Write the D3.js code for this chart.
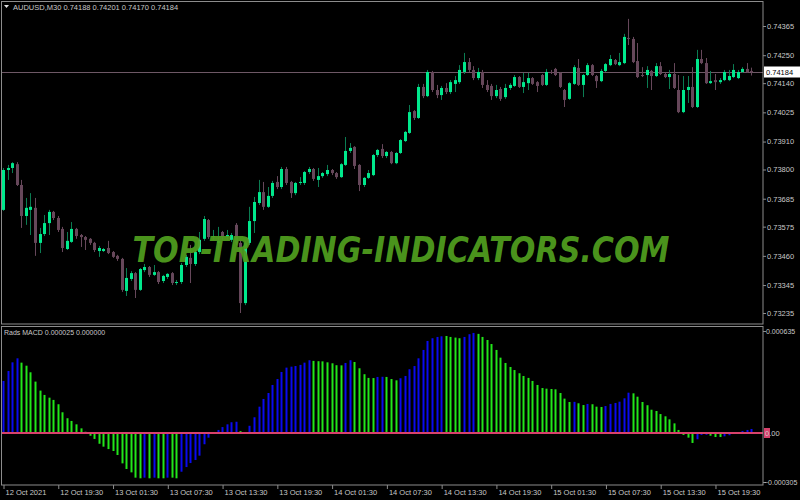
<!DOCTYPE html>
<html>
<head>
<meta charset="utf-8">
<script src="https://cdn.jsdelivr.net/npm/d3@7"></script>
<style>
body { margin: 0; background: #000; }
svg { display: block; }
text { font-family: "Liberation Sans", Arial, sans-serif; }
</style>
</head>
<body>
<svg class="chart" width="800" height="500"></svg>
<script>
// AUDUSD M30 candles, 12 Oct 13:30 -> 15 Oct 23:30
var opens = [0.73641,0.73798,0.73806,0.73821,0.73739,0.73617,0.73641,0.73649,0.73511,0.73546,0.73589,0.73633,0.73609,0.73566,0.73487,0.73515,0.73566,0.73542,0.73534,0.73527,
0.73511,0.73479,0.73479,0.73491,0.73475,0.73460,0.73448,0.73322,0.73369,0.73392,0.73326,0.73404,0.73416,0.73385,0.73396,0.73361,0.73377,0.73392,0.73353,0.73357,
0.73424,0.73452,0.73428,0.73475,0.73527,0.73601,0.73534,0.73511,0.73554,0.73534,0.73523,0.73582,0.73511,0.73274,0.73511,0.73597,0.73668,0.73711,0.73653,0.73696,
0.73751,0.73731,0.73802,0.73751,0.73707,0.73747,0.73747,0.73790,0.73802,0.73759,0.73774,0.73782,0.73798,0.73786,0.73770,0.73818,0.73873,0.73889,0.73818,0.73739,
0.73767,0.73778,0.73857,0.73881,0.73853,0.73869,0.73825,0.73865,0.73912,0.73944,0.74030,0.74003,0.74125,0.74089,0.74184,0.74113,0.74093,0.74121,0.74105,0.74137,
0.74144,0.74184,0.74223,0.74192,0.74160,0.74184,0.74133,0.74129,0.74089,0.74117,0.74085,0.74121,0.74129,0.74164,0.74125,0.74140,0.74160,0.74144,0.74172,0.74133,
0.74184,0.74196,0.74180,0.74113,0.74078,0.74137,0.74200,0.74133,0.74172,0.74211,0.74168,0.74148,0.74188,0.74211,0.74231,0.74211,0.74219,0.74318,0.74314,0.74227,
0.74172,0.74172,0.74188,0.74168,0.74207,0.74176,0.74164,0.74176,0.74113,0.74026,0.74113,0.74125,0.74046,0.74235,0.74219,0.74140,0.74152,0.74144,0.74152,0.74152,
0.74164,0.74160,0.74184,0.74196,0.74188];
var highs = [0.73806,0.73818,0.73829,0.73829,0.73759,0.73688,0.73707,0.73688,0.73570,0.73621,0.73641,0.73637,0.73617,0.73574,0.73554,0.73593,0.73570,0.73546,0.73538,0.73530,
0.73515,0.73499,0.73491,0.73519,0.73479,0.73464,0.73452,0.73412,0.73400,0.73396,0.73412,0.73428,0.73420,0.73424,0.73400,0.73385,0.73392,0.73396,0.73365,0.73432,
0.73464,0.73503,0.73483,0.73554,0.73617,0.73605,0.73562,0.73574,0.73558,0.73562,0.73550,0.73589,0.73519,0.73519,0.73653,0.73692,0.73759,0.73751,0.73731,0.73755,
0.73774,0.73810,0.73810,0.73755,0.73751,0.73770,0.73794,0.73810,0.73806,0.73806,0.73790,0.73818,0.73802,0.73790,0.73825,0.73928,0.73904,0.73892,0.73821,0.73770,
0.73798,0.73861,0.73881,0.73900,0.73873,0.73873,0.73869,0.73920,0.73952,0.74054,0.74034,0.74137,0.74137,0.74192,0.74188,0.74133,0.74129,0.74140,0.74152,0.74168,
0.74211,0.74259,0.74239,0.74207,0.74200,0.74192,0.74152,0.74137,0.74133,0.74125,0.74137,0.74140,0.74172,0.74168,0.74180,0.74180,0.74164,0.74148,0.74176,0.74196,
0.74192,0.74200,0.74184,0.74117,0.74144,0.74211,0.74235,0.74176,0.74219,0.74215,0.74172,0.74196,0.74219,0.74251,0.74235,0.74259,0.74334,0.74393,0.74322,0.74298,
0.74203,0.74207,0.74192,0.74219,0.74223,0.74180,0.74192,0.74219,0.74172,0.74168,0.74168,0.74203,0.74271,0.74271,0.74239,0.74188,0.74176,0.74160,0.74192,0.74192,
0.74215,0.74192,0.74203,0.74219,0.74201];
var lows = [0.73637,0.73759,0.73786,0.73735,0.73570,0.73582,0.73542,0.73460,0.73471,0.73538,0.73542,0.73601,0.73554,0.73475,0.73483,0.73511,0.73527,0.73495,0.73483,0.73503,
0.73475,0.73456,0.73475,0.73467,0.73452,0.73440,0.73318,0.73302,0.73361,0.73294,0.73322,0.73396,0.73377,0.73381,0.73349,0.73353,0.73369,0.73345,0.73345,0.73349,
0.73416,0.73353,0.73420,0.73467,0.73519,0.73527,0.73523,0.73483,0.73523,0.73523,0.73515,0.73503,0.73235,0.73266,0.73503,0.73550,0.73660,0.73641,0.73649,0.73688,
0.73723,0.73723,0.73739,0.73688,0.73699,0.73739,0.73739,0.73782,0.73755,0.73731,0.73767,0.73774,0.73778,0.73763,0.73767,0.73814,0.73865,0.73802,0.73715,0.73731,
0.73763,0.73774,0.73849,0.73845,0.73845,0.73821,0.73821,0.73861,0.73908,0.73940,0.73995,0.73999,0.74081,0.74085,0.74105,0.74081,0.74074,0.74097,0.74097,0.74105,
0.74137,0.74176,0.74184,0.74152,0.74152,0.74121,0.74105,0.74074,0.74081,0.74070,0.74078,0.74113,0.74125,0.74121,0.74101,0.74113,0.74133,0.74105,0.74129,0.74129,
0.74176,0.74168,0.74121,0.74046,0.74074,0.74133,0.74129,0.74085,0.74168,0.74168,0.74121,0.74144,0.74184,0.74207,0.74211,0.74207,0.74215,0.74290,0.74219,0.74160,
0.74164,0.74121,0.74113,0.74164,0.74172,0.74160,0.74117,0.74117,0.74022,0.74022,0.74062,0.74042,0.74042,0.74215,0.74137,0.74137,0.74113,0.74137,0.74148,0.74148,
0.74160,0.74156,0.74180,0.74180,0.74170];
var closes = [0.73798,0.73806,0.73825,0.73739,0.73617,0.73649,0.73653,0.73511,0.73546,0.73589,0.73633,0.73609,0.73562,0.73491,0.73519,0.73566,0.73538,0.73534,0.73523,0.73511,
0.73483,0.73491,0.73487,0.73471,0.73456,0.73448,0.73326,0.73373,0.73392,0.73326,0.73408,0.73416,0.73385,0.73396,0.73357,0.73381,0.73389,0.73353,0.73357,0.73424,
0.73456,0.73428,0.73475,0.73523,0.73605,0.73534,0.73538,0.73519,0.73534,0.73542,0.73542,0.73511,0.73274,0.73511,0.73597,0.73672,0.73711,0.73653,0.73696,0.73747,
0.73731,0.73802,0.73747,0.73707,0.73747,0.73751,0.73790,0.73802,0.73763,0.73774,0.73786,0.73798,0.73786,0.73770,0.73821,0.73873,0.73885,0.73814,0.73739,0.73767,
0.73786,0.73857,0.73877,0.73853,0.73869,0.73825,0.73865,0.73916,0.73948,0.74026,0.74003,0.74125,0.74089,0.74184,0.74113,0.74093,0.74121,0.74105,0.74144,0.74152,
0.74192,0.74223,0.74192,0.74160,0.74184,0.74133,0.74113,0.74089,0.74113,0.74078,0.74121,0.74133,0.74164,0.74125,0.74144,0.74160,0.74137,0.74129,0.74133,0.74184,
0.74180,0.74172,0.74125,0.74074,0.74140,0.74203,0.74133,0.74172,0.74211,0.74172,0.74148,0.74188,0.74215,0.74235,0.74215,0.74223,0.74322,0.74314,0.74223,0.74164,
0.74168,0.74192,0.74168,0.74207,0.74176,0.74164,0.74176,0.74121,0.74026,0.74113,0.74125,0.74046,0.74235,0.74219,0.74140,0.74148,0.74144,0.74152,0.74184,0.74168,
0.74192,0.74184,0.74196,0.74184,0.74184];

// Rads MACD histogram and its colour (b = rising/blue, g = falling/lime)
var macd = [0.000324,0.000386,0.000440,0.000465,0.000438,0.000419,0.000378,0.000320,0.000264,0.000237,0.000220,0.000206,0.000179,0.000129,0.000092,0.000075,0.000054,0.000029,0.000008,-0.000017,
-0.000037,-0.000067,-0.000085,-0.000100,-0.000112,-0.000137,-0.000189,-0.000224,-0.000245,-0.000278,-0.000282,-0.000278,-0.000282,-0.000278,-0.000282,-0.000282,-0.000278,-0.000278,-0.000282,-0.000241,
-0.000212,-0.000187,-0.000168,-0.000141,-0.000070,-0.000029,0.000003,0.000019,0.000037,0.000054,0.000067,0.000070,0.000012,0.000006,0.000045,0.000098,0.000164,0.000212,0.000249,0.000299,
0.000336,0.000380,0.000407,0.000413,0.000417,0.000424,0.000438,0.000453,0.000449,0.000447,0.000446,0.000440,0.000434,0.000422,0.000421,0.000436,0.000453,0.000442,0.000403,0.000366,
0.000343,0.000342,0.000349,0.000350,0.000349,0.000336,0.000328,0.000341,0.000355,0.000397,0.000417,0.000465,0.000517,0.000573,0.000590,0.000598,0.000602,0.000604,0.000598,0.000594,
0.000590,0.000598,0.000615,0.000623,0.000617,0.000598,0.000579,0.000554,0.000517,0.000469,0.000436,0.000411,0.000392,0.000372,0.000355,0.000343,0.000324,0.000299,0.000280,0.000276,
0.000274,0.000272,0.000249,0.000214,0.000193,0.000194,0.000185,0.000174,0.000181,0.000179,0.000164,0.000162,0.000168,0.000181,0.000187,0.000195,0.000216,0.000251,0.000247,0.000226,
0.000193,0.000173,0.000145,0.000137,0.000118,0.000104,0.000085,0.000060,0.000019,-0.000012,-0.000029,-0.000062,-0.000039,-0.000012,-0.000011,-0.000017,-0.000025,-0.000025,-0.000021,-0.000014,
-0.000006,-0.000002,0.000012,0.000019,0.000025];
var macdColor = ("bbbbggggggggggggggggggggggggggg" + "bgbggbgg" + "bbbbbbbbbbbbb" + "gg" + "bbbbbbbbbbbbbb" + "ggggggg" + "bb" + "ggggg" + "bb" + "ggg" +
  "bbbbbbbbbb" + "gggg" + "bbb" + "ggggggggggggggggggggg" + "b" + "gg" + "b" + "ggg" + "bbbbbb" + "gggggggggggggg" + "bbb" + "ggg" + "bbbbbbb").split("");

var priceTicks = [0.74365,0.74250,0.74140,0.74025,0.73910,0.73800,0.73685,0.73575,0.73460,0.73345,0.73235];
var timeTickBars = [0,12,24,36,48,60,72,84,96,108,120,132,144,156];
var timeLabels = ["12 Oct 2021","12 Oct 19:30","13 Oct 01:30","13 Oct 07:30","13 Oct 13:30","13 Oct 19:30","14 Oct 01:30",
  "14 Oct 07:30","14 Oct 13:30","14 Oct 19:30","15 Oct 01:30","15 Oct 07:30","15 Oct 13:30","15 Oct 19:30"];
var macdTicks = [0.000635, -0.000305];
var lastPrice = 0.74184;

var bullColor = "#00e88c";
var bullWick = "#0b7c52";
var bearColor = "#66475a";
var axisText = "#c8c8c8";
var frameColor = "#8c8c8c";

var svg = d3.select(".chart");
svg.append("rect").attr("width", 800).attr("height", 500).attr("fill", "#000");

var xScale = d3.scaleLinear().domain([0, opens.length - 1]).range([3, 3 + 4.564 * (opens.length - 1)]);
var yScale = d3.scaleLinear().domain([0.73235, 0.74365]).range([313, 26]);
var mScale = d3.scaleLinear().domain([-0.000305, 0.000635]).range([482, 331]);

function px(i) { return Math.round(xScale(i)); }

// last price line (behind candles)
svg.append("line")
  .attr("x1", 1).attr("x2", 763)
  .attr("y1", Math.round(yScale(lastPrice)) + 0.5).attr("y2", Math.round(yScale(lastPrice)) + 0.5)
  .attr("stroke", "#6e5866").attr("stroke-width", 1);

// candles
var bars = d3.range(opens.length);
var candles = svg.append("g");
candles.selectAll("line.wick").data(bars).enter().append("line")
  .attr("class", "wick")
  .attr("x1", function(i) { return px(i) + 0.5; })
  .attr("x2", function(i) { return px(i) + 0.5; })
  .attr("y1", function(i) { return yScale(highs[i]); })
  .attr("y2", function(i) { return yScale(lows[i]); })
  .attr("stroke", function(i) { return closes[i] >= opens[i] ? bullWick : bearColor; })
  .attr("stroke-width", 1);
candles.selectAll("rect.body").data(bars).enter().append("rect")
  .attr("class", "body")
  .attr("x", function(i) { return px(i) - 1; })
  .attr("width", 3)
  .attr("y", function(i) { return yScale(Math.max(opens[i], closes[i])); })
  .attr("height", function(i) { return Math.max(1, Math.abs(yScale(opens[i]) - yScale(closes[i]))); })
  .attr("fill", function(i) { return closes[i] >= opens[i] ? bullColor : bearColor; });

// MACD histogram
svg.append("g").selectAll("rect").data(bars).enter().append("rect")
  .attr("x", function(i) { return px(i) - 0.5; })
  .attr("width", 2)
  .attr("y", function(i) { return Math.min(mScale(macd[i]), mScale(0)); })
  .attr("height", function(i) { return Math.abs(mScale(macd[i]) - mScale(0)); })
  .attr("fill", function(i) { return macdColor[i] == "b" ? "#0a0af0" : "#22e61a"; });

svg.append("line")
  .attr("x1", 1).attr("x2", 763)
  .attr("y1", mScale(0)).attr("y2", mScale(0))
  .attr("stroke", "#d8416c").attr("stroke-width", 2);

// watermark
svg.append("text")
  .attr("x", 401).attr("y", 262)
  .attr("text-anchor", "middle")
  .attr("textLength", 537).attr("lengthAdjust", "spacingAndGlyphs")
  .style("font-size", "35px").style("font-weight", "bold").style("font-style", "italic")
  .style("font-family", "'DejaVu Sans', sans-serif")
  .attr("fill", "#4f9d1e").attr("fill-opacity", 0.95)
  .text("TOP-TRADING-INDICATORS.COM");

// frames
svg.append("rect").attr("x", 1.5).attr("y", 1.5).attr("width", 761.5).attr("height", 322.5)
  .attr("fill", "none").attr("stroke", frameColor);
svg.append("rect").attr("x", 1.5).attr("y", 326.5).attr("width", 761.5).attr("height", 158.5)
  .attr("fill", "none").attr("stroke", frameColor);

// price axis
var yAxis = svg.append("g")
  .attr("transform", "translate(763,0)")
  .call(d3.axisRight(yScale).tickValues(priceTicks).tickSize(3).tickPadding(1).tickFormat(d3.format(".5f")));
yAxis.select(".domain").remove();
yAxis.selectAll("line").attr("stroke", frameColor);
yAxis.selectAll("text").attr("fill", axisText).style("font-size", "7.5px")
  .style("font-family", "'Liberation Sans', Arial, sans-serif");

// last price label
var lpY = Math.round(yScale(lastPrice));
svg.append("rect").attr("x", 764).attr("y", lpY - 5.5).attr("width", 36).attr("height", 11).attr("fill", "#fff");
svg.append("text").attr("x", 766).attr("y", lpY + 3).attr("fill", "#000").style("font-size", "7.5px")
  .text(d3.format(".5f")(lastPrice));

// MACD axis
var mAxis = svg.append("g")
  .attr("transform", "translate(763,0)")
  .call(d3.axisRight(mScale).tickValues(macdTicks).tickSize(3).tickPadding(0).tickFormat(d3.format(".6f")));
mAxis.select(".domain").remove();
mAxis.selectAll("line").attr("stroke", frameColor);
mAxis.selectAll("text").attr("fill", axisText).style("font-size", "7px")
  .style("font-family", "'Liberation Sans', Arial, sans-serif")
  .attr("dx", function(d) { return d < 0 ? -2 : 0; });
svg.append("rect").attr("x", 764).attr("y", mScale(0) - 5).attr("width", 6).attr("height", 10).attr("fill", "#d8416c");
svg.append("text").attr("x", 765).attr("y", mScale(0) + 3).attr("fill", axisText).style("font-size", "7.5px").text("0.00");

// time axis
var xAxis = svg.append("g")
  .attr("transform", "translate(0,485)")
  .call(d3.axisBottom(xScale).tickValues(timeTickBars).tickSize(4)
    .tickFormat(function(d, i) { return timeLabels[i]; }));
xAxis.select(".domain").remove();
xAxis.selectAll("line").attr("stroke", frameColor).attr("transform", "translate(0.5,0)");
xAxis.selectAll("text").attr("fill", axisText).attr("text-anchor", "start").attr("dx", 2).attr("dy", "0.35em")
  .style("font-size", "7.5px").style("font-family", "'Liberation Sans', Arial, sans-serif");

// headers
svg.append("path").attr("d", "M4,5 L9,5 L6.5,8 Z").attr("fill", "#e0e0e0");
svg.append("text").attr("x", 13).attr("y", 10).attr("fill", axisText).style("font-size", "7.5px")
  .text("AUDUSD,M30 0.74188 0.74201 0.74170 0.74184");
svg.append("text").attr("x", 4).attr("y", 335).attr("fill", axisText).style("font-size", "7px")
  .text("Rads MACD 0.000025 0.000000");
</script>
</body>
</html>
